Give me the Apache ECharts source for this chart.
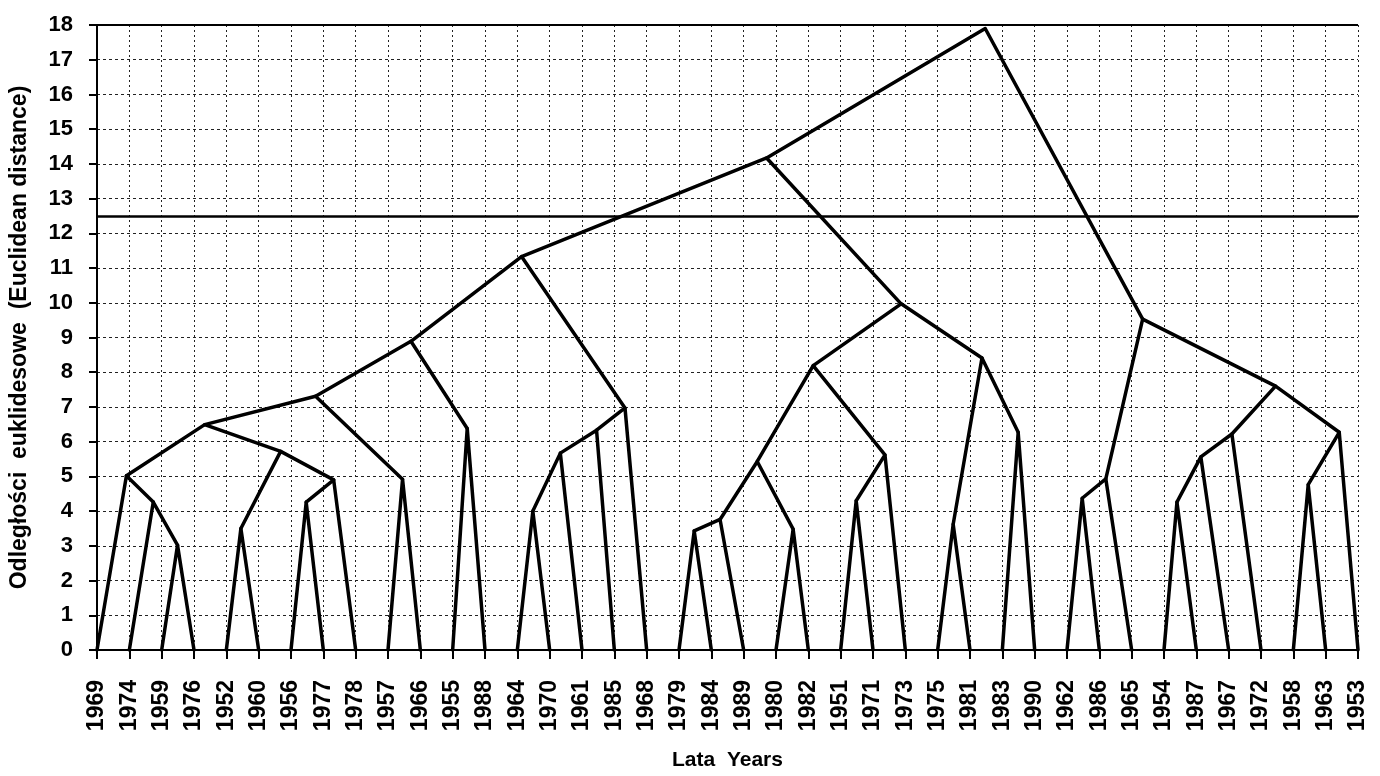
<!DOCTYPE html>
<html>
<head>
<meta charset="utf-8">
<script src="https://cdn.jsdelivr.net/npm/echarts@6/dist/echarts.min.js"></script>
<style>
html,body{margin:0;padding:0;background:#fff;}
#chart{width:1380px;height:776px;}
</style>
</head>
<body>
<div id="chart"></div>
<script>
// Leaf labels (x-axis categories, left to right)
const years = ['1969','1974','1959','1976','1952','1960','1956','1977','1978','1957',
  '1966','1955','1988','1964','1970','1961','1985','1968','1979','1984',
  '1989','1980','1982','1951','1971','1973','1975','1981','1983','1990',
  '1962','1986','1965','1954','1987','1967','1972','1958','1963','1953'];

// Merge nodes of the dendrogram
const nodeIds = ['A','B','C','D','E','F','G','H','I','J','L','K','M','N','O','P','Q',
  'U','V','X','W','AA','Z','Y','CC','DD','BB','S','R','GG','EE','JJ','KK','HH','LL','II','FF','T','ROOT'];
// horizontal position of each node (in leaf-index units, as drawn)
const nodeX = [2.49,1.74,0.91,4.45,6.47,7.32,5.68,3.33,9.45,6.76,11.45,9.71,13.48,14.33,15.45,16.33,13.13,
  18.47,19.27,21.53,20.42,23.48,24.37,22.15,26.48,28.49,27.37,24.87,20.71,30.47,31.2,33.4,34.14,35.1,37.46,38.42,36.45,32.34,27.47];
// merge height (Euclidean distance)
const nodeH = [3.02,4.26,5.02,3.5,4.26,4.9,5.72,6.49,4.92,7.31,6.38,8.89,4.0,5.67,6.33,6.97,11.33,
  3.43,3.76,3.48,5.43,4.3,5.62,8.19,3.62,6.27,8.41,9.97,14.17,4.37,4.93,4.26,5.56,6.22,4.76,6.27,7.6,9.53,17.9];
// children of each node: number = leaf index, string = node id
const nodeKids = [[2,3],[1,'A'],[0,'B'],[4,5],[6,7],['E',8],['D','F'],['C','G'],[9,10],['H','I'],[11,12],['J','L'],
  [13,14],['M',15],['N',16],['O',17],['K','P'],
  [18,19],['U',20],[21,22],['V','X'],[23,24],['AA',25],['W','Z'],[26,27],[28,29],['CC','DD'],['Y','BB'],['Q','S'],
  [30,31],['GG',32],[33,34],['JJ',35],['KK',36],[37,38],['LL',39],['HH','II'],['EE','FF'],['R','T']];
// cut level and y-axis range
const cutLevel = 12.5;
const yMax = 18;

function coordOf(k){
  if (typeof k === 'number') return [k, 0];
  const i = nodeIds.indexOf(k);
  return [nodeX[i], nodeH[i]];
}
const segs = nodeIds.map((id, i) => ({
  coords: [coordOf(nodeKids[i][0]), [nodeX[i], nodeH[i]], coordOf(nodeKids[i][1])]
}));

const FONT = "'Liberation Sans', Arial, sans-serif";
const chart = echarts.init(document.getElementById('chart'), null, {renderer:'canvas'});
chart.setOption({
  animation: false,
  backgroundColor: '#fff',
  grid: {left: 95, right: 22, top: 25, bottom: 125},
  xAxis: {
    type: 'value', min: 0, max: years.length - 1, interval: 1,
    name: 'Lata  Years', nameLocation: 'middle', nameGap: 100,
    nameTextStyle: {fontFamily: FONT, fontWeight: 'bold', fontSize: 21, color: '#000'},
    axisLine: {show: true, lineStyle: {color: '#000', width: 2}},
    axisTick: {show: true, length: 9, lineStyle: {color: '#000', width: 2}},
    axisLabel: {
      rotate: 90, margin: 30, fontFamily: FONT, fontWeight: 'bold', fontSize: 23, color: '#000',
      formatter: v => years[v] || ''
    },
    splitLine: {show: true, lineStyle: {color: '#222', width: 1, type: [2, 3]}}
  },
  yAxis: {
    type: 'value', min: 0, max: yMax, interval: 1,
    name: 'Odległości  euklidesowe  (Euclidean distance)', nameLocation: 'middle', nameGap: 66,
    nameTextStyle: {fontFamily: FONT, fontWeight: 'bold', fontSize: 23, color: '#000'},
    axisLine: {show: true, lineStyle: {color: '#000', width: 2}},
    axisTick: {show: true, length: 8, lineStyle: {color: '#000', width: 2}},
    axisLabel: {margin: 24, fontFamily: FONT, fontWeight: 'bold', fontSize: 22, color: '#000'},
    splitLine: {show: true, lineStyle: {color: '#222', width: 1, type: [3, 3]}}
  },
  series: [{
    type: 'lines', coordinateSystem: 'cartesian2d', polyline: true,
    lineStyle: {color: '#000', width: 3.5, opacity: 1, join: 'round', cap: 'round'},
    data: segs,
    markLine: {
      silent: true, symbol: 'none', label: {show: false},
      lineStyle: {color: '#000', width: 2.5, type: 'solid'},
      data: [{yAxis: cutLevel}, {yAxis: yMax, lineStyle: {width: 2}}]
    }
  }]
});
</script>
</body>
</html>
